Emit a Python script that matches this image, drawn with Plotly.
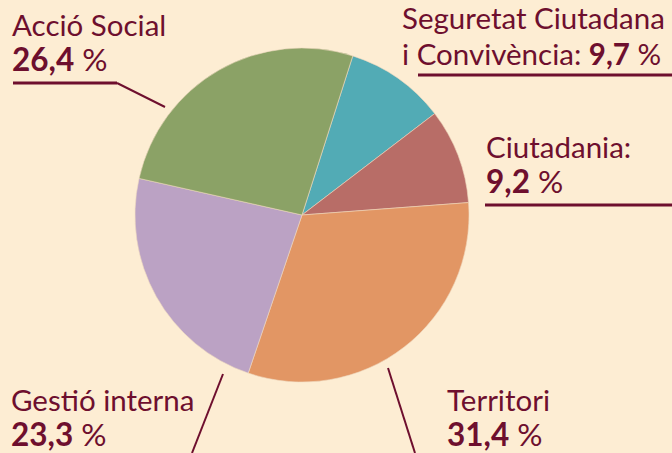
import plotly.graph_objects as go

categories = ["Seguretat Ciutadana i Convivència", "Ciutadania", "Territori", "Gestió interna", "Acció Social"]
values = [9.7, 9.2, 31.4, 23.3, 26.4]
colors = ["#52ABB5", "#B86D67", "#E29664", "#BBA2C4", "#8BA266"]

BG = "#FDEDD3"
INK = "#6E0F2E"
W, H = 672, 453
FONT = "Lato"

def px(x):
    return x / W

def py(y):
    return 1 - y / H

fig = go.Figure(go.Pie(
    labels=categories, values=values, sort=False, direction="clockwise",
    rotation=17.7, textinfo="none", hoverinfo="label+percent",
    marker=dict(colors=colors, line=dict(color="#EFD9C0", width=0.6)),
    domain=dict(x=[px(302 - 167), px(302 + 167)], y=[py(215 + 167), py(215 - 167)]),
    showlegend=False,
))

def fmt(v):
    return f"{v:.1f}".replace(".", ",")

ann = []
def add(text, x, ymid, size, anchor="left"):
    ann.append(dict(text=text, x=px(x), y=py(ymid), xref="paper", yref="paper",
                    xanchor=anchor, yanchor="middle", showarrow=False,
                    font=dict(family=FONT, size=size, color=INK)))

LS, VS = 29.5, 31.5
add("Acció Social", 10, 24, LS)
add(f"<b>{fmt(values[4])}</b> %", 10, 59, VS)
add("Seguretat Ciutadana", 400, 18, LS)
add(f"i Convivència: <b>{fmt(values[0])}</b> %", 400, 54, LS)
add("Ciutadania:", 484, 146, LS)
add(f"<b>{fmt(values[1])}</b> %", 484, 181, VS)
add("Gestió interna", 9, 399, LS)
add(f"<b>{fmt(values[3])}</b> %", 9, 434, VS)
add("Territori", 445, 399, LS)
add(f"<b>{fmt(values[2])}</b> %", 445, 434, VS)

shapes = []
def line(x0, y0, x1, y1, w):
    shapes.append(dict(type="line", xref="paper", yref="paper",
                       x0=px(x0), y0=py(y0), x1=px(x1), y1=py(y1),
                       line=dict(color=INK, width=w)))

line(13, 83, 117, 83, 3)
line(117, 83, 165, 107, 2)
line(418, 75, 672, 75, 3)
line(485, 205, 672, 205, 3)
line(223, 374, 192, 453, 2)
line(388, 368, 415, 453, 2)

fig.update_layout(
    width=W, height=H, margin=dict(l=0, r=0, t=0, b=0),
    paper_bgcolor=BG, plot_bgcolor=BG,
    annotations=ann, shapes=shapes,
)
fig.write_html("out.html", config={"displayModeBar": False},
               post_script="document.body.style.margin='0';document.body.style.overflow='hidden';")
